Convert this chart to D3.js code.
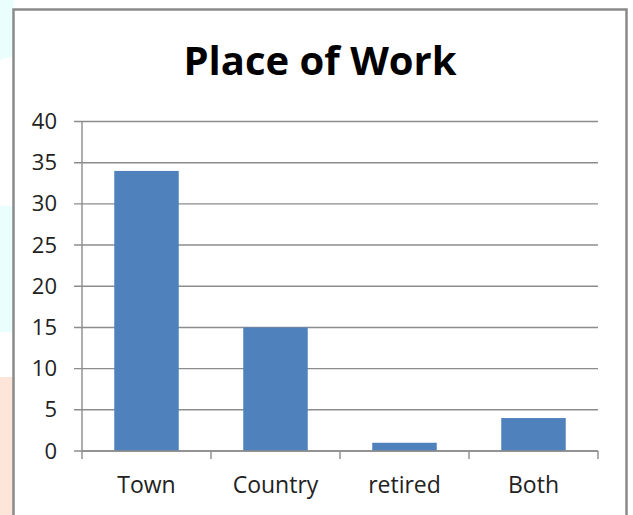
<!DOCTYPE html>
<html>
<head>
<meta charset="utf-8">
<script src="https://cdn.jsdelivr.net/npm/d3@7"></script>
<style>
  body { margin: 0; background: #fff; }
  text { font-family: "Open Sans", sans-serif; fill: #222; }
</style>
</head>
<body>
<div id="chart"></div>
<script>
// datos
const categories = ["Town", "Country", "retired", "Both"];
const values = [34, 15, 1, 4];
const yTicks = [0, 5, 10, 15, 20, 25, 30, 35, 40];
const title = "Place of Work";

const width = 633;
const height = 515;
const margin = { top: 121.5, bottom: 64, left: 82, right: 35 };

const svg = d3
  .select("div#chart")
  .append("svg")
  .attr("width", width)
  .attr("height", height);

// franjas de fondo a la izquierda (resto de la diapositiva)
svg.append("path")
  .attr("d", "M0,0 L14,0 L14,56 L0,60 Z")
  .attr("fill", "#eafefe");
svg.append("rect")
  .attr("x", 0).attr("y", 206).attr("width", 14).attr("height", 126)
  .attr("fill", "#eafefe");
svg.append("rect")
  .attr("x", 0).attr("y", 377).attr("width", 14).attr("height", 138)
  .attr("fill", "#fde5d9");

// marco del grafico
svg.append("rect")
  .attr("x", 13.5).attr("y", 9.5)
  .attr("width", 613).attr("height", 520)
  .attr("fill", "#fff")
  .attr("stroke", "#8a8a8a")
  .attr("stroke-width", 2.5);

svg.append("text")
  .attr("x", 320)
  .attr("y", 75)
  .attr("text-anchor", "middle")
  .style("font-size", "40px")
  .style("font-weight", "bold")
  .style("fill", "#000")
  .text(title);

const plotW = width - margin.left - margin.right;
const plotH = height - margin.top - margin.bottom;

const g = svg.append("g")
  .attr("transform", `translate(${margin.left}, ${margin.top})`);

const x = d3.scaleBand().domain(categories).range([0, plotW]).padding(0);
const y = d3.scaleLinear().domain([0, 40]).range([plotH, 0]);

// lineas de cuadricula
g.append("g")
  .selectAll("line")
  .data(yTicks)
  .join("line")
  .attr("x1", -8)
  .attr("x2", plotW)
  .attr("y1", (d) => y(d))
  .attr("y2", (d) => y(d))
  .attr("stroke", "#8c8c8c")
  .attr("stroke-width", 1.4);

// eje Y
const yAxis = d3.axisLeft(y).tickValues(yTicks).tickSize(0).tickPadding(25);
const yAxisGroup = g.append("g").call(yAxis);
yAxisGroup.select(".domain").remove();
yAxisGroup.selectAll("text")
  .style("font-size", "22px")
  .style("font-family", "'Open Sans', sans-serif")
  .attr("fill", "#222");

g.append("line")
  .attr("x1", 0).attr("x2", 0)
  .attr("y1", 0).attr("y2", plotH + 8)
  .attr("stroke", "#8c8c8c")
  .attr("stroke-width", 1.4);

// barras
const barW = x.bandwidth() * 0.5;
g.append("g")
  .selectAll("rect")
  .data(values)
  .join("rect")
  .attr("x", (d, i) => x(categories[i]) + (x.bandwidth() - barW) / 2)
  .attr("y", (d) => y(d))
  .attr("width", barW)
  .attr("height", (d) => y(0) - y(d))
  .attr("fill", "#4f81bd");

// eje X
g.append("line")
  .attr("x1", 0).attr("x2", plotW)
  .attr("y1", y(0)).attr("y2", y(0))
  .attr("stroke", "#8c8c8c")
  .attr("stroke-width", 1.4);

const bounds = categories.map((c) => x(c) + x.bandwidth());
g.append("g")
  .selectAll("line")
  .data(bounds)
  .join("line")
  .attr("x1", (d) => d).attr("x2", (d) => d)
  .attr("y1", y(0)).attr("y2", y(0) + 8)
  .attr("stroke", "#8c8c8c")
  .attr("stroke-width", 1.4);

g.append("g")
  .selectAll("text")
  .data(categories)
  .join("text")
  .attr("x", (d) => x(d) + x.bandwidth() / 2)
  .attr("y", y(0) + 41.5)
  .attr("text-anchor", "middle")
  .style("font-size", "23px")
  .text((d) => d);
</script>
</body>
</html>
